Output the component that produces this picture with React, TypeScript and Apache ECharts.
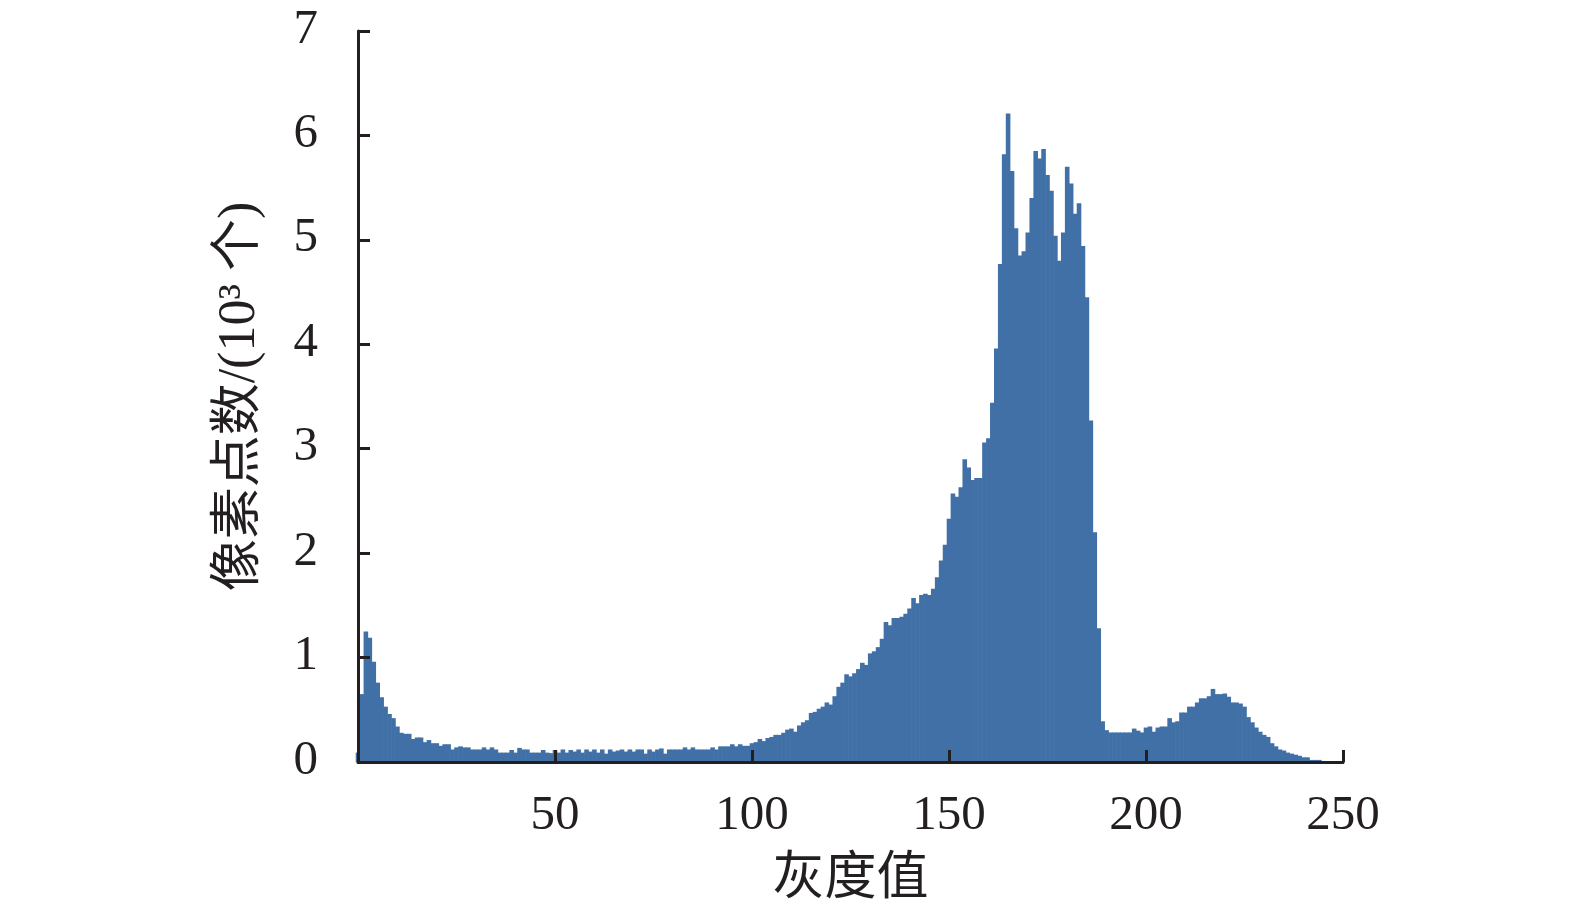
import { useEffect, useRef } from 'react';
import * as echarts from 'echarts';

// Pixel counts per gray level (unit: 10^3 pixels), gray levels 0..249
const pixelCounts: number[] = [
  // 0-9
  0.09, 0.65, 1.25, 1.19, 0.96, 0.76, 0.62, 0.53, 0.46, 0.42,
  // 10-19
  0.34, 0.28, 0.27, 0.27, 0.22, 0.235, 0.235, 0.19, 0.21, 0.18,
  // 20-29
  0.18, 0.155, 0.17, 0.17, 0.12, 0.14, 0.15, 0.14, 0.14, 0.12,
  // 30-39
  0.12, 0.12, 0.14, 0.12, 0.14, 0.12, 0.09, 0.09, 0.09, 0.115,
  // 40-49
  0.09, 0.135, 0.12, 0.12, 0.09, 0.09, 0.09, 0.115, 0.09, 0.085,
  // 50-59
  0.115, 0.09, 0.12, 0.09, 0.115, 0.1, 0.12, 0.09, 0.12, 0.1,
  // 60-69
  0.12, 0.09, 0.12, 0.08, 0.12, 0.1, 0.11, 0.12, 0.1, 0.12,
  // 70-79
  0.1, 0.12, 0.12, 0.08, 0.12, 0.1, 0.12, 0.13, 0.08, 0.12,
  // 80-89
  0.12, 0.12, 0.12, 0.14, 0.12, 0.14, 0.12, 0.12, 0.12, 0.12,
  // 90-99
  0.14, 0.12, 0.15, 0.15, 0.15, 0.17, 0.15, 0.17, 0.155, 0.155,
  // 100-109
  0.18, 0.19, 0.22, 0.2, 0.23, 0.24, 0.26, 0.26, 0.28, 0.31,
  // 110-119
  0.32, 0.29, 0.35, 0.38, 0.4, 0.47, 0.48, 0.51, 0.53, 0.57,
  // 120-129
  0.55, 0.63, 0.72, 0.76, 0.84, 0.82, 0.85, 0.89, 0.95, 0.93,
  // 130-139
  1.04, 1.06, 1.1, 1.18, 1.34, 1.31, 1.38, 1.38, 1.39, 1.42,
  // 140-149
  1.47, 1.57, 1.52, 1.6, 1.61, 1.6, 1.66, 1.77, 1.93, 2.08,
  // 150-159
  2.33, 2.57, 2.54, 2.63, 2.9, 2.82, 2.7, 2.72, 2.72, 3.06,
  // 160-169
  3.1, 3.44, 3.96, 4.77, 5.82, 6.21, 5.66, 5.11, 4.85, 4.89,
  // 170-179
  5.07, 5.4, 5.85, 5.78, 5.87, 5.62, 5.47, 5.04, 4.8, 5.07,
  // 180-189
  5.7, 5.54, 5.25, 5.35, 4.94, 4.45, 3.27, 2.2, 1.28, 0.39,
  // 190-199
  0.305, 0.283, 0.283, 0.283, 0.283, 0.283, 0.283, 0.32, 0.3, 0.283,
  // 200-209
  0.33, 0.34, 0.29, 0.33, 0.34, 0.34, 0.42, 0.38, 0.39, 0.474,
  // 210-219
  0.474, 0.53, 0.53, 0.57, 0.61, 0.61, 0.63, 0.7, 0.65, 0.65,
  // 220-229
  0.656, 0.625, 0.57, 0.57, 0.56, 0.53, 0.43, 0.38, 0.33, 0.29,
  // 230-239
  0.26, 0.24, 0.18, 0.15, 0.12, 0.11, 0.09, 0.08, 0.07, 0.06,
  // 240-249
  0.045, 0.045, 0.02, 0.02, 0.02, 0.01, 0, 0, 0, 0,
];

// Gray level of each bin (index of the count above)
const grayLevels: number[] = pixelCounts.map((_, i) => i);

const xTickInterval = 50;
const xMin = 0;
const xMax = 250;
const yMin = 0;
const yMax = 7;
const yTickInterval = 1;

const xAxisName = '灰度值';
const yAxisName = '像素点数/(10³ 个)';

const BAR_COLOR = '#4170a7';
const INK = '#231f20';
const LATIN_FONT = "'Liberation Serif', 'Times New Roman', serif";
const MIXED_FONT = "'Liberation Serif', 'Noto Sans CJK SC', serif";
const CJK_FONT = "'Noto Sans CJK SC', sans-serif";

export default function App() {
  const ref = useRef<HTMLDivElement>(null);

  useEffect(() => {
    if (!ref.current) return;
    const chart = echarts.init(ref.current, undefined, { renderer: 'svg' });
    const data = grayLevels.map((g, i) => [g, pixelCounts[i]]);
    chart.setOption({
      animation: false,
      backgroundColor: '#ffffff',
      grid: {
        left: 358,
        right: 232,
        top: 31,
        bottom: 147,
        containLabel: false,
        outerBoundsMode: 'none',
      },
      xAxis: {
        type: 'value',
        min: xMin,
        max: xMax,
        interval: xTickInterval,
        z: 5,
        name: xAxisName,
        nameLocation: 'middle',
        nameGap: 83,
        nameTextStyle: { fontFamily: CJK_FONT, fontSize: 52, lineHeight: 52, color: INK },
        axisLine: { show: true, onZero: false, lineStyle: { color: INK, width: 3 } },
        axisTick: { show: true, inside: true, length: 12, lineStyle: { color: INK, width: 3 } },
        axisLabel: {
          showMinLabel: false,
          margin: 26,
          fontFamily: LATIN_FONT,
          fontSize: 49,
          color: INK,
        },
        splitLine: { show: false },
      },
      yAxis: {
        type: 'value',
        min: yMin,
        max: yMax,
        interval: yTickInterval,
        z: 5,
        name: yAxisName,
        nameLocation: 'middle',
        nameRotate: 90,
        nameGap: 96,
        nameTextStyle: { fontFamily: MIXED_FONT, fontSize: 52, lineHeight: 52, color: INK },
        axisLine: { show: true, onZero: false, lineStyle: { color: INK, width: 3 } },
        axisTick: { show: true, inside: true, length: 12, lineStyle: { color: INK, width: 3 } },
        axisLabel: {
          margin: 40,
          fontFamily: LATIN_FONT,
          fontSize: 49,
          lineHeight: 10,
          verticalAlign: 'bottom',
          color: INK,
        },
        splitLine: { show: false },
      },
      series: [
        {
          type: 'bar',
          data,
          barWidth: 4.6,
          barGap: '0%',
          itemStyle: { color: BAR_COLOR },
        },
      ],
    });
    return () => chart.dispose();
  }, []);

  return (
    <div
      ref={ref}
      style={{ position: 'fixed', left: 0, top: 0, width: '1575px', height: '909px', background: '#fff' }}
    />
  );
}
